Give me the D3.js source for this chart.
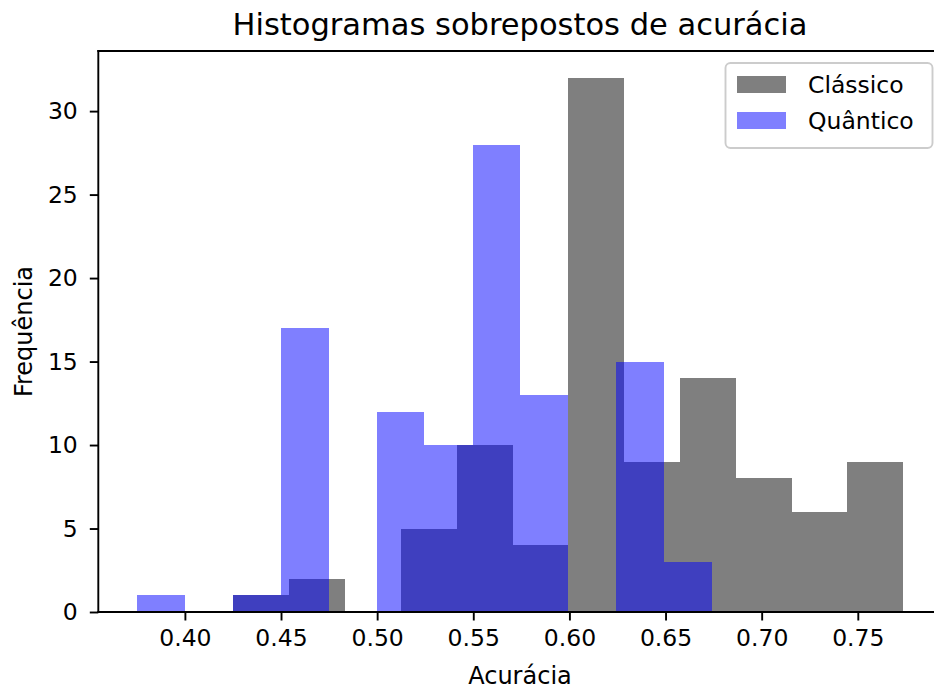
<!DOCTYPE html>
<html>
<head>
<meta charset="utf-8">
<script src="https://cdn.jsdelivr.net/npm/d3@7"></script>
<style>
  html, body { margin: 0; padding: 0; background: #fff; }
  svg { display: block; }
  text { font-family: "DejaVu Sans", sans-serif; fill: #000; }
</style>
</head>
<body>
<div id="chart"></div>
<script>
// ---- Data ----
const seriesNames = ["Clássico", "Quântico"];
const classicEdges = [0.4252, 0.4542, 0.4833, 0.5123, 0.5414, 0.5704, 0.5994, 0.6285, 0.6575, 0.6866, 0.7156, 0.7446, 0.7737];
const classicCounts = [1, 2, 0, 5, 10, 4, 32, 9, 14, 8, 6, 9];
const quantumEdges = [0.3749, 0.3999, 0.4248, 0.4498, 0.4747, 0.4997, 0.5246, 0.5496, 0.5745, 0.5995, 0.6244, 0.6494, 0.6743];
const quantumCounts = [1, 0, 1, 17, 0, 12, 10, 28, 13, 0, 15, 3];
const xTicks = [0.40, 0.45, 0.50, 0.55, 0.60, 0.65, 0.70, 0.75];
const yTicks = [0, 5, 10, 15, 20, 25, 30];
const titleText = "Histogramas sobrepostos de acurácia";
const xLabel = "Acurácia";
const yLabel = "Frequência";

(function () {
// ---- Layout ----
const W = 934, H = 688;
const mLeft = 98.3, mRight = 941.7, mTop = 51, mBottom = 612;

const svg = d3.select("#chart").append("svg").attr("width", W).attr("height", H);

const allEdges = classicEdges.concat(quantumEdges);
const xmin = d3.min(allEdges), xmax = d3.max(allEdges);
const pad = (xmax - xmin) * 0.05;
const x = d3.scaleLinear().domain([xmin - pad, xmax + pad]).range([mLeft, mRight]);
const ymax = d3.max(classicCounts.concat(quantumCounts)) * 1.05;
const y = d3.scaleLinear().domain([0, ymax]).range([mBottom, mTop]);

function bins(edges, counts) {
  return counts.map((c, i) => ({ x0: edges[i], x1: edges[i + 1], c }));
}

const plot = svg.append("g");
plot.selectAll("rect.classic").data(bins(classicEdges, classicCounts).filter(d => d.c > 0))
  .enter().append("rect").attr("class", "classic")
  .attr("x", d => x(d.x0)).attr("width", d => x(d.x1) - x(d.x0))
  .attr("y", d => y(d.c)).attr("height", d => y(0) - y(d.c))
  .attr("fill", "#000").attr("fill-opacity", 0.5)
  .attr("shape-rendering", "crispEdges");

plot.selectAll("rect.quantum").data(bins(quantumEdges, quantumCounts).filter(d => d.c > 0))
  .enter().append("rect").attr("class", "quantum")
  .attr("x", d => x(d.x0)).attr("width", d => x(d.x1) - x(d.x0))
  .attr("y", d => y(d.c)).attr("height", d => y(0) - y(d.c))
  .attr("fill", "#0000ff").attr("fill-opacity", 0.5)
  .attr("shape-rendering", "crispEdges");

// ---- Axes ----
const xAxis = d3.axisBottom(x).tickValues(xTicks).tickFormat(d3.format(".2f")).tickSize(8.5).tickPadding(9);
const gx = svg.append("g").attr("transform", `translate(0,${mBottom})`).call(xAxis);
const yAxis = d3.axisLeft(y).tickValues(yTicks).tickFormat(d3.format("d")).tickSize(8.5).tickPadding(12);
const gy = svg.append("g").attr("transform", `translate(${mLeft},0)`).call(yAxis);
[gx, gy].forEach(g => {
  g.select(".domain").remove();
  g.selectAll(".tick line").attr("stroke", "#000").attr("stroke-width", 1.9);
  g.selectAll(".tick text").attr("font-size", 23.5).attr("font-family", "DejaVu Sans").attr("fill", "#000");
});
gx.selectAll(".tick text").attr("dy", "0.71em");

// spines
const sp = svg.append("g").attr("stroke", "#000").attr("stroke-width", 1.9).attr("fill", "none");
sp.append("line").attr("x1", mLeft).attr("x2", mLeft).attr("y1", mTop).attr("y2", mBottom).attr("stroke-linecap", "square");
sp.append("line").attr("x1", mLeft).attr("x2", mRight).attr("y1", mBottom).attr("y2", mBottom).attr("stroke-linecap", "square");
sp.append("line").attr("x1", mLeft).attr("x2", mRight).attr("y1", mTop).attr("y2", mTop).attr("stroke-linecap", "square");
sp.append("line").attr("x1", mRight).attr("x2", mRight).attr("y1", mTop).attr("y2", mBottom);

// ---- Labels ----
svg.append("text").attr("x", (mLeft + mRight) / 2).attr("y", 35).attr("text-anchor", "middle")
  .attr("font-size", 30.5).text(titleText);
svg.append("text").attr("x", (mLeft + mRight) / 2).attr("y", 683.5).attr("text-anchor", "middle")
  .attr("font-size", 24).text(xLabel);
svg.append("text").attr("transform", `translate(32,${(mTop + mBottom) / 2}) rotate(-90)`)
  .attr("text-anchor", "middle").attr("font-size", 24).text(yLabel);

// ---- Legend ----
const lg = svg.append("g");
lg.append("rect").attr("x", 725.5).attr("y", 63).attr("width", 207).attr("height", 85).attr("rx", 5)
  .attr("fill", "#fff").attr("fill-opacity", 0.8).attr("stroke", "#cccccc").attr("stroke-width", 1.9);
const legendColors = [{ c: "#000", o: 0.5 }, { c: "#0000ff", o: 0.5 }];
seriesNames.forEach((name, i) => {
  const cy = 84.5 + i * 36;
  lg.append("rect").attr("x", 737).attr("y", cy - 8.5).attr("width", 49).attr("height", 17)
    .attr("fill", legendColors[i].c).attr("fill-opacity", legendColors[i].o);
  lg.append("text").attr("x", 808).attr("y", cy + 8.5).attr("font-size", 23.5).text(name);
});
})();
</script>
</body>
</html>
